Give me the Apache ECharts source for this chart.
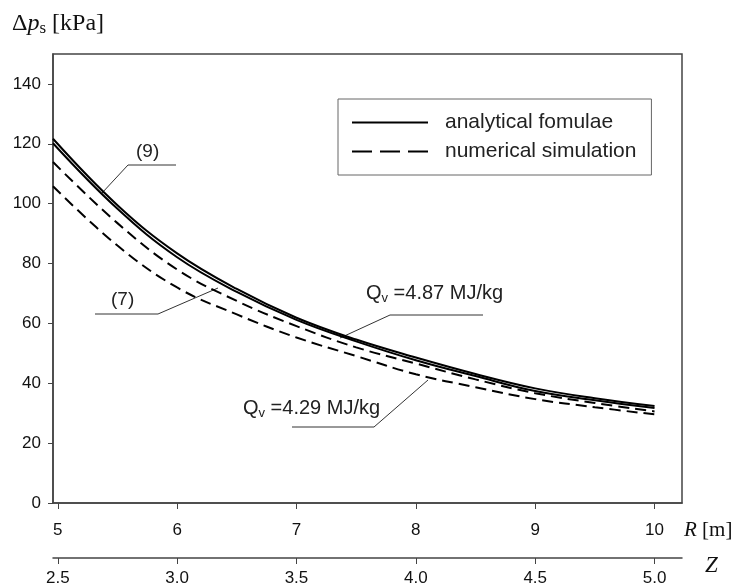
<!DOCTYPE html>
<html>
<head>
<meta charset="utf-8">
<script src="https://cdn.jsdelivr.net/npm/echarts@6/dist/echarts.min.js"></script>
<style>
html,body{margin:0;padding:0;background:#fff;}
#c{width:731px;height:587px;}
</style>
</head>
<body>
<div id="c"></div>
<script>
// Distance R [m]
var R = [4.96, 5.5, 6, 6.5, 7, 7.5, 8, 8.5, 9, 9.5, 10];
// analytical formulae (two curves)
var analytical1 = [121.7, 99.5, 83.4, 71.5, 61.9, 54.6, 48.6, 43.1, 38.3, 35.0, 32.4];
var analytical2 = [120.2, 98.3, 82.1, 70.5, 61.2, 54.0, 47.7, 42.4, 37.4, 34.3, 31.7];
// numerical simulation (two curves)
var numerical1 = [113.9, 93.5, 78.0, 67.5, 59.1, 52.0, 46.6, 41.3, 36.7, 33.4, 30.6];
var numerical2 = [105.8, 86.0, 72.0, 63.0, 55.3, 49.1, 43.0, 38.7, 34.7, 32.0, 29.6];
// tick labels
var rTicks = [5, 6, 7, 8, 9, 10];
var zTicks = [2.5, 3.0, 3.5, 4.0, 4.5, 5.0];
var yTicks = [0, 20, 40, 60, 80, 100, 120, 140];
var legendNames = ['analytical fomulae', 'numerical simulation'];

function pairs(xs, ys) { return xs.map(function (x, i) { return [x, ys[i]]; }); }

var chart = echarts.init(document.getElementById('c'), null, {renderer: 'canvas'});
var lab = {color: '#111', fontFamily: 'Liberation Sans, Arial', fontSize: 17};
var solid = {color: '#000', width: 2, type: 'solid'};
var dashed = {color: '#000', width: 2, type: [11, 6]};

chart.setOption({
  animation: false,
  backgroundColor: '#fff',
  grid: {left: 53, right: 49, top: 54, bottom: 83, show: true, borderColor: '#444', borderWidth: 1.5, backgroundColor: 'transparent'},
  legend: {
    orient: 'vertical', left: 338, top: 99,
    borderColor: '#666', borderWidth: 1,
    padding: [13, 15, 13, 13], itemGap: 8,
    itemWidth: 76, itemHeight: 14,
    itemStyle: {opacity: 0},
    textStyle: {color: '#222', fontFamily: 'Liberation Sans, Arial', fontSize: 21, padding: [0, 0, 0, 12]},
    data: [
      {name: legendNames[0], lineStyle: {type: 'solid'}, itemStyle: {opacity: 0}},
      {name: legendNames[1], lineStyle: {type: [20, 8]}, itemStyle: {opacity: 0}}
    ]
  },
  xAxis: [{
    type: 'value', min: 4.96, max: 10.23, position: 'bottom',
    axisLine: {show: true, onZero: false, lineStyle: {color: '#444', width: 1.5}},
    axisTick: {show: true, length: 6, customValues: rTicks, lineStyle: {color: '#444'}},
    axisLabel: Object.assign({margin: 19, customValues: rTicks}, lab),
    splitLine: {show: false}
  }, {
    type: 'value', min: 2.48, max: 5.115, position: 'bottom', offset: 55,
    axisLine: {show: true, onZero: false, lineStyle: {color: '#444', width: 1.5}},
    axisTick: {show: true, length: 6, customValues: zTicks, lineStyle: {color: '#444'}},
    axisLabel: Object.assign({margin: 12, customValues: zTicks, formatter: function (v) { return v.toFixed(1); }}, lab),
    splitLine: {show: false}
  }],
  yAxis: {
    type: 'value', min: 0, max: 150,
    axisLine: {show: true, lineStyle: {color: '#444', width: 1.5}},
    axisTick: {show: true, length: 5, customValues: yTicks, lineStyle: {color: '#444'}},
    axisLabel: Object.assign({margin: 12, customValues: yTicks}, lab),
    splitLine: {show: false}
  },
  series: [
    {name: legendNames[0], type: 'line', xAxisIndex: 0, data: pairs(R, analytical1), smooth: 0.4, symbol: 'none', lineStyle: solid, color: '#000'},
    {name: legendNames[0], type: 'line', xAxisIndex: 0, data: pairs(R, analytical2), smooth: 0.4, symbol: 'none', lineStyle: solid, color: '#000'},
    {name: legendNames[1], type: 'line', xAxisIndex: 0, data: pairs(R, numerical1), smooth: 0.4, symbol: 'none', lineStyle: dashed, color: '#000'},
    {name: legendNames[1], type: 'line', xAxisIndex: 0, data: pairs(R, numerical2), smooth: 0.4, symbol: 'none', lineStyle: dashed, color: '#000'}
  ],
  graphic: [
    {type: 'text', left: 12, top: 12, style: {
      text: '{d|Δ}{p|p}{s|s}{t| [kPa]}',
      rich: {
        d: {fontFamily: 'Liberation Serif', fontSize: 24, fill: '#111'},
        p: {fontFamily: 'Liberation Serif', fontStyle: 'italic', fontSize: 24, fill: '#111'},
        s: {fontFamily: 'Liberation Serif', fontSize: 17, fill: '#111', padding: [10, 0, 0, 0]},
        t: {fontFamily: 'Liberation Serif', fontSize: 24, fill: '#111'}
      }
    }},
    {type: 'text', left: 684, top: 520, style: {
      text: '{r|R}{t| [m]}',
      rich: {
        r: {fontFamily: 'Liberation Serif', fontStyle: 'italic', fontSize: 21, fill: '#111'},
        t: {fontFamily: 'Liberation Serif', fontSize: 21, fill: '#111'}
      }
    }},
    {type: 'text', left: 705, top: 554, style: {text: 'Z', fontFamily: 'Liberation Serif', fontStyle: 'italic', fontSize: 23, fill: '#111'}},
    // annotation (9)
    {type: 'text', left: 136, top: 142, style: {text: '(9)', fontFamily: 'Liberation Sans', fontSize: 19, fill: '#222'}},
    {type: 'polyline', shape: {points: [[176, 165], [128, 165], [102, 193]]}, style: {stroke: '#333', lineWidth: 1, fill: null}},
    // annotation (7)
    {type: 'text', left: 111, top: 290, style: {text: '(7)', fontFamily: 'Liberation Sans', fontSize: 19, fill: '#222'}},
    {type: 'polyline', shape: {points: [[95, 314], [158, 314], [218, 288]]}, style: {stroke: '#333', lineWidth: 1, fill: null}},
    // Qv = 4.87
    {type: 'text', left: 366, top: 283, style: {
      text: '{n|Q}{s|v}{n| =4.87 MJ/kg}',
      rich: {n: {fontFamily: 'Liberation Sans', fontSize: 20, fill: '#222'}, s: {fontFamily: 'Liberation Sans', fontSize: 13, fill: '#222', padding: [11, 0, 0, 0]}}
    }},
    {type: 'polyline', shape: {points: [[483, 315], [390, 315], [340, 338]]}, style: {stroke: '#333', lineWidth: 1, fill: null}},
    // Qv = 4.29
    {type: 'text', left: 243, top: 398, style: {
      text: '{n|Q}{s|v}{n| =4.29 MJ/kg}',
      rich: {n: {fontFamily: 'Liberation Sans', fontSize: 20, fill: '#222'}, s: {fontFamily: 'Liberation Sans', fontSize: 13, fill: '#222', padding: [11, 0, 0, 0]}}
    }},
    {type: 'polyline', shape: {points: [[292, 427], [374, 427], [428, 380]]}, style: {stroke: '#333', lineWidth: 1, fill: null}}
  ]
});
</script>
</body>
</html>
